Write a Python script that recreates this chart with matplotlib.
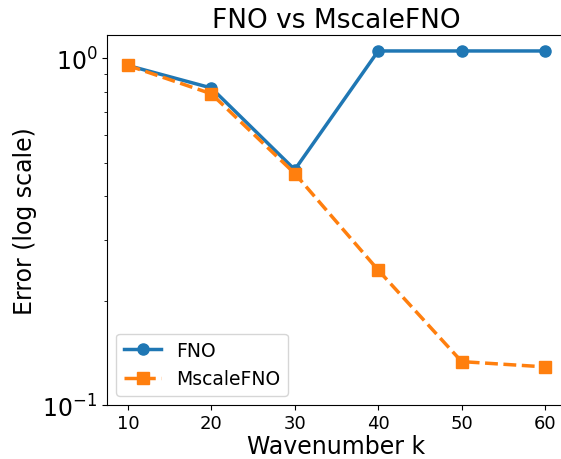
import matplotlib
matplotlib.use("Agg")
import matplotlib.pyplot as plt

k = [10, 20, 30, 40, 50, 60]
fno = [0.952, 0.82, 0.477, 1.048, 1.048, 1.048]
mscale = [0.952, 0.789, 0.465, 0.245, 0.1336, 0.129]

fig = plt.figure(figsize=(5.61, 4.6), dpi=100)
ax = fig.add_axes([107/561, (460-406.3)/460, (566-107)/561, (406.3-36)/460])
ax.plot(k, fno, '-o', color='#1f77b4', lw=2.5, ms=8, label='FNO')
ax.plot(k, mscale, '--s', color='#ff7f0e', lw=2.5, ms=8, label='MscaleFNO')
ax.set_yscale('log')
ax.set_xlim(7.5, 62.5)
ax.set_ylim(0.1, 1.165)
ax.set_xticks(k)
ax.set_title('FNO vs MscaleFNO', fontsize=19)
ax.set_xlabel('Wavenumber k', fontsize=17, labelpad=1)
ax.set_ylabel('Error (log scale)', fontsize=17)
ax.tick_params(axis='x', which='major', labelsize=13, pad=3)
ax.tick_params(axis='y', which='major', labelsize=17)
ax.legend(fontsize=13.5, loc='lower left')
fig.savefig('out.png', dpi=100)
